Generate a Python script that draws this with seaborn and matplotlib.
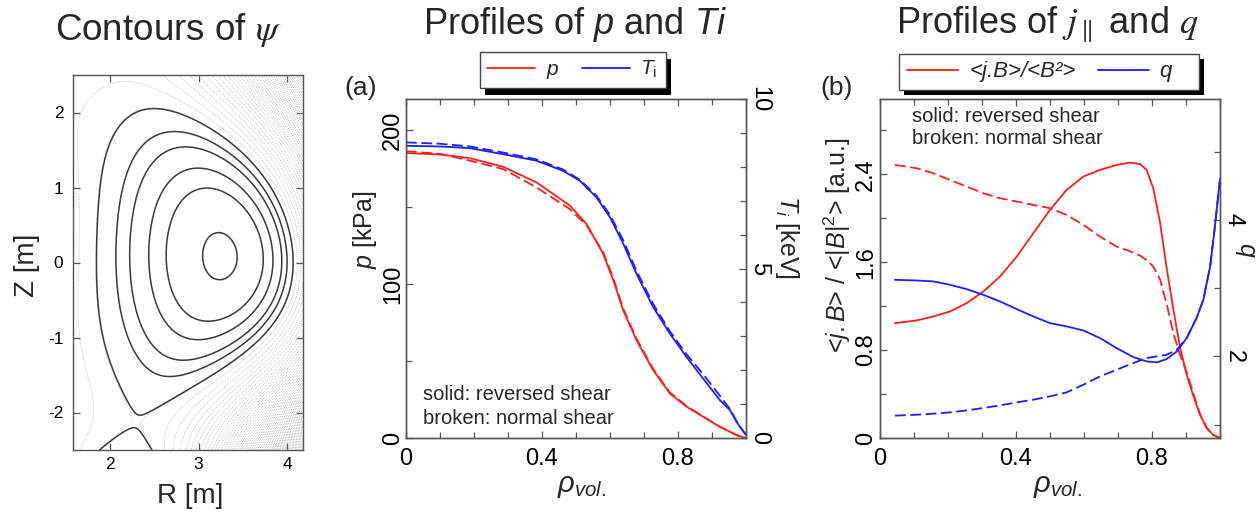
import numpy as np
import pandas as pd
import matplotlib
matplotlib.use("Agg")
import matplotlib.pyplot as plt
import seaborn as sns
from matplotlib.lines import Line2D
from matplotlib.patches import Rectangle
from matplotlib.ticker import FixedLocator, FuncFormatter

# ---------------- left panel: equilibrium shape (m) ----------------
sep_R_inner = 1.84
sep_R_outer = 4.07
sep_top_R, sep_top_Z = 2.49, 2.06
xpt_R, xpt_Z = 2.30, -2.12
axis_R = 3.30
solid_R_outer = [3.43, 3.73, 3.84, 3.94, 4.00]   # outer-midplane crossings of drawn surfaces
R_ticks = [2, 3, 4]
Z_ticks = [-2, -1, 0, 1, 2]

# ---------------- panel (a): p and Ti profiles ----------------
rho_p = [0, 0.1, 0.188, 0.286, 0.384, 0.482, 0.531, 0.58, 0.61, 0.639, 0.678, 0.727,
         0.776, 0.825, 0.874, 0.923, 0.972, 1.0]
p_rev = [184.9, 184.0, 181.6, 176.0, 165.9, 150.8, 138.9, 119.5, 102.2, 82.8, 63.4, 44.0,
         28.9, 20.3, 13.8, 7.3, 1.9, 0.0]
p_norm = [186.1, 184.4, 180.0, 174.5, 162.6, 148.5, 138.0, 120.5, 103.5, 84.0, 64.5, 44.8,
          29.5, 20.8, 14.0, 7.3, 1.9, 0.0]
rho_T = [0, 0.1, 0.188, 0.286, 0.384, 0.462, 0.511, 0.56, 0.6, 0.639, 0.678, 0.727, 0.776,
         0.825, 0.874, 0.923, 0.953, 0.972, 0.992, 1.0]
T_rev = [8.62, 8.60, 8.55, 8.37, 8.18, 7.88, 7.59, 7.10, 6.51, 5.73, 4.84, 3.86, 3.08,
         2.39, 1.75, 1.12, 0.82, 0.48, 0.19, 0.10]
T_norm = [8.72, 8.68, 8.60, 8.42, 8.22, 7.92, 7.62, 7.15, 6.58, 5.83, 4.93, 3.95, 3.15,
          2.47, 1.88, 1.25, 0.85, 0.50, 0.20, 0.10]

# ---------------- panel (b): <j.B>/<B^2> and q profiles ----------------
rho_j = [0.044, 0.108, 0.157, 0.206, 0.255, 0.304, 0.353, 0.402, 0.451, 0.5, 0.549, 0.598,
         0.647, 0.696, 0.735, 0.765, 0.784, 0.804, 0.824, 0.843, 0.863, 0.882, 0.902, 0.922,
         0.941, 0.961, 0.98, 1.0]
j_rev = [1.045, 1.07, 1.106, 1.152, 1.227, 1.333, 1.47, 1.65, 1.864, 2.076, 2.258, 2.379,
         2.44, 2.485, 2.506, 2.494, 2.44, 2.27, 1.955, 1.55, 1.167, 0.833, 0.576, 0.379,
         0.212, 0.091, 0.027, 0.0]
j_norm = [2.485, 2.455, 2.409, 2.348, 2.288, 2.227, 2.182, 2.152, 2.121, 2.091, 2.03, 1.94,
          1.833, 1.742, 1.70, 1.66, 1.62, 1.56, 1.44, 1.22, 0.95, 0.76, 0.60, 0.40,
          0.22, 0.09, 0.027, 0.0]
rho_q = [0.044, 0.108, 0.157, 0.206, 0.255, 0.304, 0.353, 0.402, 0.451, 0.5, 0.549, 0.598,
         0.647, 0.696, 0.745, 0.784, 0.814, 0.843, 0.873, 0.902, 0.931, 0.951, 0.971, 0.985, 1.0]
q_rev = [3.122, 3.112, 3.098, 3.049, 2.985, 2.902, 2.805, 2.693, 2.585, 2.488, 2.439, 2.38,
         2.268, 2.122, 1.99, 1.927, 1.912, 1.961, 2.073, 2.268, 2.561, 2.829, 3.317, 3.902, 4.6]
q_norm = [1.132, 1.146, 1.161, 1.18, 1.21, 1.244, 1.283, 1.327, 1.366, 1.415, 1.473, 1.585,
          1.707, 1.805, 1.902, 1.976, 2.0, 2.024, 2.098, 2.268, 2.561, 2.829, 3.317, 3.902, 4.6]

RED = "#ff1e1e"
BLUE = "#1e1eff"

# ---------------- analytic (Cerfon-Freidberg) equilibrium built from the shape above ----------------
R0 = 0.5 * (sep_R_inner + sep_R_outer)
a_min = 0.5 * (sep_R_outer - sep_R_inner)
eps = a_min / R0
kap = sep_top_Z / a_min
dl = (R0 - sep_top_R) / a_min
xs, ys = xpt_R / R0, xpt_Z / R0


def basis(x, y):
    lx = np.log(x); x2 = x * x; y2 = y * y
    return [np.ones_like(x), x2, y2 - x2 * lx, x2 * x2 - 4 * x2 * y2,
            2 * y2 * y2 - 9 * y2 * x2 + 3 * x2 * x2 * lx - 12 * x2 * y2 * lx,
            x2 ** 3 - 12 * x2 * x2 * y2 + 8 * x2 * y2 * y2,
            8 * y2 ** 3 - 140 * y2 * y2 * x2 + 75 * y2 * x2 * x2 - 15 * x2 ** 3 * lx
            + 180 * x2 * x2 * y2 * lx - 120 * x2 * y2 * y2 * lx,
            y * np.ones_like(x), y * x2, y * y2 - 3 * y * x2 * lx, 3 * y * x2 * x2 - 4 * y * y2 * x2,
            8 * y ** 5 - 45 * y * x2 * x2 - 80 * y * y2 * x2 * lx + 60 * y * x2 * x2 * lx]


def psi_part(x, y, A):
    return x ** 4 / 8 + A * (x ** 2 * np.log(x) / 2 - x ** 4 / 8)


def D(f, p, k):
    x, y = p
    h, H = 1e-4, 1e-3
    if k == 'v':
        return f(x, y)
    if k == 'x':
        return (f(x + h, y) - f(x - h, y)) / (2 * h)
    if k == 'y':
        return (f(x, y + h) - f(x, y - h)) / (2 * h)
    if k == 'xx':
        return (f(x + H, y) - 2 * f(x, y) + f(x - H, y)) / H ** 2
    return (f(x, y + H) - 2 * f(x, y) + f(x, y - H)) / H ** 2


def solve(A):
    al = np.arcsin(dl)
    N1 = -(1 + al) ** 2 / (eps * kap ** 2)
    N2 = (1 - al) ** 2 / (eps * kap ** 2)
    N3 = -kap / (eps * np.cos(al) ** 2)
    po, pi, pt, px = (1 + eps, 0.0), (1 - eps, 0.0), (1 - dl * eps, kap * eps), (xs, ys)
    B = lambda x, y: np.array(basis(np.float64(x), np.float64(y)), dtype=float)
    P = lambda x, y: psi_part(np.float64(x), np.float64(y), A)
    rows, rhs = [], []
    cons = [[(1, 'v', po)], [(1, 'v', pi)], [(1, 'v', pt)], [(1, 'v', px)],
            [(1, 'y', po)], [(1, 'y', pi)], [(1, 'x', pt)], [(1, 'x', px)], [(1, 'y', px)],
            [(1, 'yy', po), (N1, 'x', po)], [(1, 'yy', pi), (N2, 'x', pi)],
            [(1, 'xx', pt), (N3, 'y', pt)]]
    for terms in cons:
        r = np.zeros(12); s = 0.0
        for cf, k, p in terms:
            r = r + cf * D(B, p, k)
            s = s + cf * D(P, p, k)
        rows.append(r); rhs.append(-s)
    return np.linalg.solve(np.array(rows), np.array(rhs))


def psi_eval(x, y, A, c):
    return psi_part(x, y, A) + np.tensordot(c, np.array(basis(x, y), dtype=float), axes=1)


xm = np.linspace(1 - eps + 0.005, 1 + eps - 0.005, 3000)
best = None
for A in np.linspace(-0.8, 1.2, 201):
    try:
        c = solve(A)
    except np.linalg.LinAlgError:
        continue
    v = psi_eval(xm, np.zeros_like(xm), A, c)
    ra = xm[np.argmax(np.abs(v))] * R0
    err = abs(ra - axis_R)
    if best is None or err < best[0]:
        best = (err, A, c, v[np.argmax(np.abs(v))])
_, A_best, c_best, psi_axis = best

Rg = np.linspace(1.45, 4.4, 650)
Zg = np.linspace(-2.7, 2.7, 760)
RR, ZZ = np.meshgrid(Rg, Zg)
PSI_N = psi_eval(RR / R0, ZZ / R0, A_best, c_best) / psi_axis

solid_levels = sorted([0.004] + [float(psi_eval(r / R0, 0.0, A_best, c_best) / psi_axis)
                                 for r in solid_R_outer])
dotted_levels = sorted(-0.13 * np.arange(0, 120) - 0.002)

# ---------------- figure ----------------
sns.set_theme(style="ticks")
plt.rcParams['font.family'] = ['Liberation Sans', 'DejaVu Sans']
plt.rcParams['mathtext.fontset'] = 'custom'
plt.rcParams['mathtext.rm'] = 'Liberation Sans'
plt.rcParams['mathtext.it'] = 'Liberation Sans:italic'
plt.rcParams['mathtext.bf'] = 'Liberation Sans:bold'

W, H = 1258, 517
fig = plt.figure(figsize=(W / 100, H / 100), dpi=100)
fig.patch.set_facecolor('white')


def box(l, t, r, b):
    return [l / W, 1 - b / H, (r - l) / W, (b - t) / H]


def fx(x):
    return x / W


def fy(y):
    return 1 - y / H


SPC = '#555555'


def style(ax):
    for s in ax.spines.values():
        s.set_color(SPC)
        s.set_linewidth(1.0)
    ax.tick_params(which='both', direction='in', color=SPC, width=0.9,
                   labelcolor='black')
    ax.tick_params(which='major', length=5)
    ax.tick_params(which='minor', length=4)
    ax.set_facecolor('white')
    ax.grid(False)


gfmt = FuncFormatter(lambda v, pos: f"{v:g}")

# ---- left: contours of psi ----
ax0 = fig.add_axes(box(73, 75, 303, 450))
ax0.contour(RR, ZZ, PSI_N, levels=dotted_levels, colors='#a8a8a8', linewidths=0.55,
            linestyles=':')
ax0.contour(RR, ZZ, PSI_N, levels=solid_levels, colors='#3a3a3a', linewidths=1.1,
            linestyles='-')
ax0.set_xlim(1.58, 4.18)
ax0.set_ylim(-2.5, 2.5)
style(ax0)
ax0.xaxis.set_major_locator(FixedLocator(R_ticks))
ax0.yaxis.set_major_locator(FixedLocator(Z_ticks))
ax0.xaxis.set_major_formatter(gfmt)
ax0.yaxis.set_major_formatter(gfmt)
ax0.tick_params(top=True, right=True, labelsize=12.5)
ax0.tick_params(axis='x', pad=5)
ax0.tick_params(axis='y', pad=7)
fig.text(fx(168), fy(30), r"Contours of $\psi$", fontsize=26.5, ha='center', va='center',
         math_fontfamily='stix')
fig.text(fx(190), fy(496), "R [m]", fontsize=20, ha='center', va='center')
fig.text(fx(27), fy(265), "Z [m]", fontsize=20, ha='center', va='center', rotation=90)

# ---- (a): p and Ti ----
axa = fig.add_axes(box(406, 99, 746, 438))
axT = axa.twinx()
sns.lineplot(x=rho_p, y=p_rev, ax=axa, color=RED, linewidth=1.3, estimator=None,
             sort=False, legend=False)
sns.lineplot(x=rho_p, y=p_norm, ax=axa, color=RED, linewidth=1.3, linestyle=(0, (6, 2.5)),
             estimator=None, sort=False, legend=False)
sns.lineplot(x=rho_T, y=T_rev, ax=axT, color=BLUE, linewidth=1.3, estimator=None,
             sort=False, legend=False)
sns.lineplot(x=rho_T, y=T_norm, ax=axT, color=BLUE, linewidth=1.3, linestyle=(0, (6, 2.5)),
             estimator=None, sort=False, legend=False)
axa.set_xlim(0, 1)
axa.set_ylim(0, 220)
axT.set_ylim(0, 10)
for ax in (axa, axT):
    style(ax)
    ax.set_xlabel('')
    ax.set_ylabel('')
axa.xaxis.set_major_locator(FixedLocator([0, 0.4, 0.8]))
axa.xaxis.set_minor_locator(FixedLocator([0.1, 0.2, 0.3, 0.5, 0.6, 0.7, 0.9, 1.0]))
axa.xaxis.set_major_formatter(gfmt)
axa.yaxis.set_major_locator(FixedLocator([0, 100, 200]))
axa.yaxis.set_minor_locator(FixedLocator([50, 150]))
axa.yaxis.set_major_formatter(gfmt)
axa.tick_params(which='both', top=True, right=False, labelsize=17)
axa.tick_params(axis='x', pad=7)
axa.tick_params(axis='y', pad=1.5, labelrotation=90)
for t in axa.get_yticklabels():
    t.set_va('center')
axT.yaxis.set_major_locator(FixedLocator([0, 5, 10]))
axT.yaxis.set_minor_locator(FixedLocator([1, 2, 3, 4, 6, 7, 8, 9]))
axT.yaxis.set_major_formatter(gfmt)
axT.tick_params(axis='y', which='both', left=False, right=True, labelsize=17, pad=1.5,
                labelrotation=270)
for t in axT.get_yticklabels():
    t.set_va('center')
fig.text(fx(575), fy(25), r"Profiles of $p$ and $Ti$", fontsize=26, ha='center',
         va='center')
fig.text(fx(361), fy(88), "(a)", fontsize=19, ha='center', va='center')
fig.text(fx(582), fy(486), r"$\rho_{vol.}$", fontsize=21, ha='center', va='center')
fig.text(fx(365), fy(230), r"$p$ [kPa]", fontsize=18, ha='center', va='center', rotation=90)
fig.text(fx(787), fy(237), r"$T_i$ [keV]", fontsize=18, ha='center', va='center',
         rotation=270)
fig.text(fx(423), fy(395), "solid: reversed shear", fontsize=14.5, ha='left', va='center')
fig.text(fx(423), fy(418), "broken: normal shear", fontsize=14.5, ha='left', va='center')

# ---- (b): j and q ----
axb = fig.add_axes(box(880, 99, 1220, 438))
axq = axb.twinx()
sns.lineplot(x=rho_j, y=j_rev, ax=axb, color=RED, linewidth=1.3, estimator=None,
             sort=False, legend=False)
sns.lineplot(x=rho_j, y=j_norm, ax=axb, color=RED, linewidth=1.3, linestyle=(0, (6, 2.5)),
             estimator=None, sort=False, legend=False)
sns.lineplot(x=rho_q, y=q_rev, ax=axq, color=BLUE, linewidth=1.3, estimator=None,
             sort=False, legend=False)
sns.lineplot(x=rho_q, y=q_norm, ax=axq, color=BLUE, linewidth=1.3, linestyle=(0, (6, 2.5)),
             estimator=None, sort=False, legend=False)
axb.set_xlim(0, 1)
axb.set_ylim(0, 3.085)
axq.set_ylim(0.805, 5.77)
for ax in (axb, axq):
    style(ax)
    ax.set_xlabel('')
    ax.set_ylabel('')
axb.xaxis.set_major_locator(FixedLocator([0, 0.4, 0.8]))
axb.xaxis.set_minor_locator(FixedLocator([0.1, 0.2, 0.3, 0.5, 0.6, 0.7, 0.9, 1.0]))
axb.xaxis.set_major_formatter(gfmt)
axb.yaxis.set_major_locator(FixedLocator([0, 0.8, 1.6, 2.4]))
axb.yaxis.set_minor_locator(FixedLocator([0.4, 1.2, 2.0, 2.8]))
axb.yaxis.set_major_formatter(gfmt)
axb.tick_params(which='both', top=True, right=False, labelsize=17)
axb.tick_params(axis='x', pad=7)
axb.tick_params(axis='y', pad=2, labelrotation=90)
for t in axb.get_yticklabels():
    t.set_va('center')
axq.yaxis.set_major_locator(FixedLocator([2, 4]))
axq.yaxis.set_minor_locator(FixedLocator([1, 3, 5]))
axq.yaxis.set_major_formatter(gfmt)
axq.tick_params(axis='y', which='both', left=False, right=True, labelsize=17, pad=2,
                labelrotation=270)
for t in axq.get_yticklabels():
    t.set_va('center')
fig.text(fx(1047), fy(25), r"Profiles of $j_{\parallel}$ and $q$", fontsize=26,
         ha='center', va='center', math_fontfamily='stix')
fig.text(fx(837), fy(88), "(b)", fontsize=19, ha='center', va='center')
fig.text(fx(1058), fy(486), r"$\rho_{vol.}$", fontsize=21, ha='center', va='center')
fig.text(fx(837), fy(245), r"<$j.B$> / <$|B|^2$> [a.u.]", fontsize=18, ha='center',
         va='center', rotation=90)
fig.text(fx(1246), fy(250), "q", fontsize=18, ha='center', va='center', rotation=270,
         style='italic')
fig.text(fx(912), fy(117), "solid: reversed shear", fontsize=14.5, ha='left', va='center')
fig.text(fx(912), fy(139), "broken: normal shear", fontsize=14.5, ha='left', va='center')


# ---- legends with solid black drop shadow ----
def make_legend(labels, center, italic, size, colsp):
    hs = [Line2D([], [], color=RED, lw=1.3), Line2D([], [], color=BLUE, lw=1.3)]
    prop = {'size': size}
    if italic:
        prop['style'] = 'italic'
    leg = fig.legend(hs, labels, loc='center', bbox_to_anchor=(fx(center[0]), fy(center[1])),
                     ncol=2, frameon=True, fancybox=False, framealpha=1, edgecolor='#444444',
                     prop=prop, handlelength=2.3, handletextpad=0.5, columnspacing=colsp,
                     borderpad=0.35, borderaxespad=0)
    leg.get_frame().set_linewidth(1.0)
    leg.set_zorder(10)
    return leg


leg_a = make_legend([r"$p$", r"$T_{\mathrm{i}}$ "], (573, 70), False, 15, 1.1)
leg_b = make_legend(["<j.B>/<B²>", "q   "], (1049, 72), True, 16, 1.0)
fig.canvas.draw()
inv = fig.transFigure.inverted()
for leg, (ox, oy) in ((leg_a, (5, -7)), (leg_b, (5, -5))):
    bb = leg.get_frame().get_window_extent(fig.canvas.get_renderer())
    (x0, y0), (x1, y1) = inv.transform([(bb.x0 + ox, bb.y0 + oy), (bb.x1 + ox, bb.y1 + oy)])
    fig.add_artist(Rectangle((x0, y0), x1 - x0, y1 - y0, transform=fig.transFigure,
                             facecolor='black', edgecolor='none', zorder=9))

fig.savefig("out.png", dpi=100, facecolor='white')
